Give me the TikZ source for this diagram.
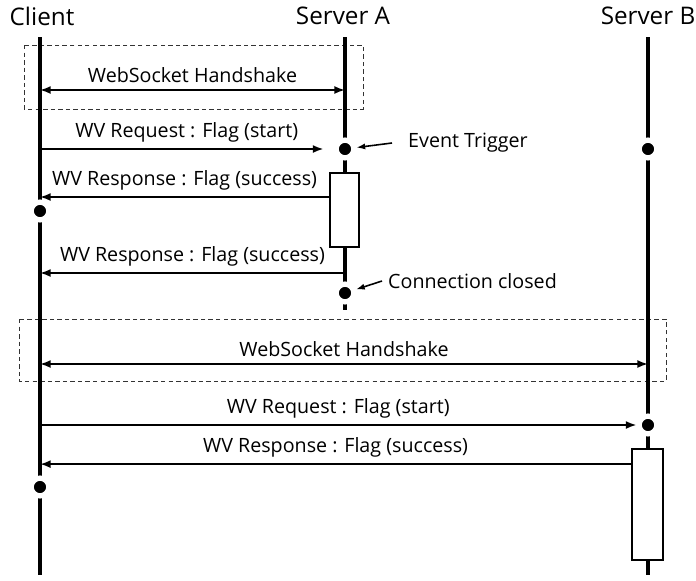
\documentclass[tikz,border=0pt]{standalone}
\usepackage{fontspec}
\setmainfont{Open Sans}
\usetikzlibrary{arrows.meta}

\tikzset{
  lifeline/.style={line width=2.2pt},
  msg/.style={line width=1.1pt,-{Latex[length=6pt,width=4.5pt]}},
  dmsg/.style={line width=1.1pt,{Latex[length=6pt,width=4.5pt]}-{Latex[length=6pt,width=4.5pt]}},
  note/.style={line width=0.9pt,-{Latex[length=5pt,width=3.5pt]}},
  dot/.style={circle,fill=black,draw=white,line width=3pt,minimum size=0.355cm,inner sep=0pt},
  actbox/.style={draw=black,fill=white,line width=1pt,inner sep=0pt},
  hsbox/.style={draw=black!80,line width=0.5pt,dash pattern=on 2.5pt off 1.8pt},
  title/.style={font=\fontsize{13.8}{16}\selectfont},
  lbl/.style={font=\fontsize{11.2}{13}\selectfont}
}

\begin{document}
\begin{tikzpicture}
  \useasboundingbox (0,0) rectangle (13.92,-11.6);

  % headers
  \node[title] (client) at (0.84,-0.32) {Client};
  \node[title] (serverA) at (6.86,-0.32) {Server A};
  \node[title] (serverB) at (12.96,-0.32) {Server B};

  % handshake frames
  \draw[hsbox] (0.48,-0.9) rectangle (7.26,-2.18);
  \draw[hsbox] (0.38,-6.38) rectangle (13.32,-7.62);

  % lifelines
  \coordinate (cx) at (0.8,-0.74);
  \coordinate (ax) at (6.9,-0.74);
  \coordinate (bx) at (12.96,-0.74);
  \draw[lifeline] (cx) -- (0.8,-11.5);
  \draw[lifeline] (ax) -- (6.9,-6.2);
  \draw[lifeline] (bx) -- (12.96,-11.5);

  % activations
  \node[actbox,minimum width=0.58cm,minimum height=1.48cm] (actA) at (6.89,-4.2) {};
  \node[actbox,minimum width=0.62cm,minimum height=2.22cm] (actB) at (12.95,-10.09) {};

  % events
  \node[dot] (dA1) at (6.9,-2.98) {};
  \node[dot] (dB1) at (12.96,-2.98) {};
  \node[dot] (dC1) at (0.8,-4.22) {};
  \node[dot] (dA2) at (6.9,-5.86) {};
  \node[dot] (dB2) at (12.96,-8.5) {};
  \node[dot] (dC2) at (0.8,-9.74) {};

  % first session
  \coordinate (hs1) at (6.9,-1.8);
  \draw[dmsg] (cx |- hs1) -- (hs1) node[lbl,midway,above] (hs1lbl) {WebSocket Handshake};
  \draw[msg,shorten >=0.2cm] (cx |- dA1) -- (dA1) node[lbl,midway,above] (req1) {WV Request : Flag (start)};
  \coordinate (r1) at ([yshift=0.26cm]actA.west);
  \draw[msg] (r1) -- (cx |- r1) node[lbl,midway,above] (resp1) {WV Response : Flag (success)};
  \coordinate (r2) at (6.9,-5.46);
  \draw[msg] (r2) -- (cx |- r2) node[lbl,midway,above] (resp2) {WV Response : Flag (success)};

  \node[lbl,anchor=west] (evt) at (8.04,-2.86) {Event Trigger};
  \draw[note] ([xshift=-0.2cm]evt.west) -- (dA1);
  \node[lbl,anchor=west] (closed) at (7.64,-5.62) {Connection closed};
  \draw[note] (closed.west) -- (dA2);

  % second session
  \coordinate (hs2) at (12.96,-7.28);
  \draw[dmsg] (cx |- hs2) -- (hs2) node[lbl,midway,above] (hs2lbl) {WebSocket Handshake};
  \draw[msg] (cx |- dB2) -- (dB2) node[lbl,midway,above] (req2) {WV Request : Flag (start)};
  \coordinate (r3) at ([yshift=-0.32cm]actB.north west);
  \draw[msg] (r3) -- (cx |- r3) node[lbl,midway,above] (resp3) {WV Response : Flag (success)};
\end{tikzpicture}
\end{document}
